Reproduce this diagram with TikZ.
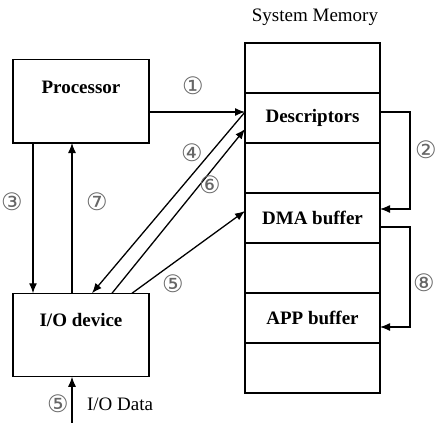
\documentclass[tikz,border=0pt]{standalone}
\usepackage{fontspec}
\setmainfont{Liberation Serif}
\newfontfamily\circfont{DejaVu Sans}
\usepackage{tikz}
\usetikzlibrary{arrows.meta,positioning}

\begin{document}
\begin{tikzpicture}[
    x=0.5pt, y=-0.5pt,
    >={Latex[length=5pt,width=4pt]},
    font=\fontsize{9.5}{11}\selectfont,
    line width=0.65pt,
    block/.style={
		rectangle,
		draw=black,
		inner sep=0pt,
		outer sep=0pt,
		minimum width=68pt,
		text height=16.75pt,
		text depth=25pt,
		font=\fontsize{9.5}{11}\selectfont\bfseries
	},
	cell/.style={
		rectangle,
		draw=black,
		inner sep=0pt,
		outer sep=0pt,
		minimum width=67.5pt,
		minimum height=25pt,
		font=\fontsize{9.5}{11}\selectfont\bfseries
	},
	step label/.style={
		text=black!60,
		inner sep=0pt,
		font=\circfont\fontsize{12}{13}\selectfont
	}
  ]
  \useasboundingbox (0,0) rectangle (435,423);

    % We start by placing the blocks
  \node [block] (proc) at (81,101.25) {Processor};
  \node [block] (io) at (81,335) {I/O device};

    % the memory column
  \node (title) at (315,17) {System Memory};
  \node [cell] (m0) at (312.5,68) {};
  \node [cell, below=0pt of m0] (desc) {Descriptors};
  \node [cell, below=0pt of desc] (m2) {};
  \node [cell, below=0pt of m2] (dma) {DMA buffer};
  \node [cell, below=0pt of dma] (m4) {};
  \node [cell, below=0pt of m4] (app) {APP buffer};
  \node [cell, below=0pt of app] (m6) {};

  \coordinate (d1) at ([yshift=3pt]desc.west);
  \coordinate (iodata) at (72,423);

    % arrows
  \draw [->] (proc.east |- d1) -- (d1);
  \draw [->] ([yshift=3pt]desc.east) -- ++(15pt,0) |- ([yshift=4.5pt]dma.east);
  \draw [->] ([xshift=-24pt]proc.south) -- ([xshift=-24pt]io.north);
  \draw [->] (d1) -- ([xshift=5.5pt]io.north);
  \draw [->] ([xshift=25.5pt]io.north) -- ([yshift=3.5pt]dma.west);
  \draw [->] ([xshift=15.5pt]io.north) -- ([yshift=-5.5pt]desc.west);
  \draw [->] ([xshift=-4.5pt]io.north) -- ([xshift=-4.5pt]proc.south);
  \draw [->] ([yshift=-4.5pt]dma.east) -- ++(15pt,0) |- ([yshift=-4.5pt]app.east);
  \draw [->] (iodata) -- ([xshift=-4.5pt]io.south);

    % step numbers
  \node [step label] (s1) at (193,86) {①};
  \node [step label] (s2) at (426,150) {②};
  \node [step label] (s3) at (12,202) {③};
  \node [step label] (s4) at (192,153) {④};
  \node [step label] (s5) at (173,284) {⑤};
  \node [step label] (s6) at (210,185) {⑥};
  \node [step label] (s7) at (97,202) {⑦};
  \node [step label] (s8) at (424,283) {⑧};
  \node [step label] (s5b) at (58,404) {⑤};
  \node (iolabel) at (120,404) {I/O Data};

\end{tikzpicture}
\end{document}
